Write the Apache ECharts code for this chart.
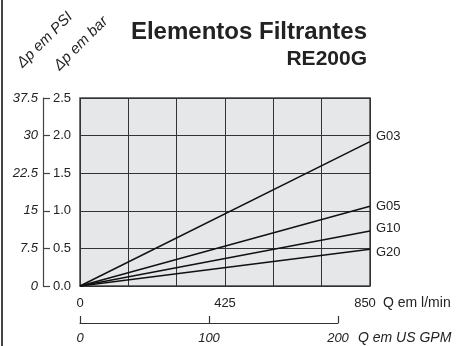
<!DOCTYPE html>
<html><head><meta charset="utf-8">
<script src="https://cdn.jsdelivr.net/npm/echarts@6/dist/echarts.min.js"></script>
<style>html,body{margin:0;padding:0;background:#fff}#c{width:459px;height:346px}</style>
</head><body><div id="c"></div>
<script>
// Data (flow in l/min, pressure drop in bar)
const seriesNames = ['G03', 'G05', 'G10', 'G20'];
const flowPoints = [0, 850];
const G03 = [0, 1.92];
const G05 = [0, 1.06];
const G10 = [0, 0.73];
const G20 = [0, 0.49];
const xTickLabels = [0, 425, 850];
const gpmTicks = [0, 100, 200];
const barTicks = [0, 0.5, 1.0, 1.5, 2.0, 2.5];
const psiTicks = [0, 7.5, 15, 22.5, 30, 37.5];
const labelOffsets = [[0, -5], [0, 0], [0, -3], [0, 3]];

const F = 'Liberation Sans, Arial, Helvetica, sans-serif';
const TXT = '#222';
const chart = echarts.init(document.getElementById('c'), null, {renderer: 'canvas'});
const vals = [G03, G05, G10, G20];

const series = seriesNames.map((n, i) => ({
  name: n, type: 'line', xAxisIndex: 0, yAxisIndex: 0,
  data: flowPoints.map((x, j) => [x, vals[i][j]]),
  symbol: 'none', silent: true,
  lineStyle: {color: '#111', width: 1.5},
  endLabel: {show: true, formatter: n, color: TXT, fontFamily: F, fontSize: 13, distance: 6, offset: labelOffsets[i]}
}));

const G = {left: 80, top: 98, width: 290, height: 188, outerBoundsMode: 'none', containLabel: false};

chart.setOption({
  animation: false,
  grid: [
    Object.assign({}, G, {show: true, backgroundColor: '#e6e7e9', borderColor: '#444', borderWidth: 1.5}),
    Object.assign({}, G, {show: false}),
    {left: 80, top: 250, width: 258, height: 73, show: false, outerBoundsMode: 'none', containLabel: false}
  ],
  xAxis: [
    {type: 'value', gridIndex: 0, min: 0, max: 850, interval: 850 / 6,
     axisLine: {show: false}, axisTick: {show: false},
     splitLine: {show: true, lineStyle: {color: '#333', width: 1}},
     axisLabel: {color: TXT, fontFamily: F, fontSize: 13, margin: 11,
       formatter: v => { const r = Math.round(v); if (!(xTickLabels.includes(r) && Math.abs(v - r) < 0.01)) return ''; return r === 850 ? '{r|' + r + '}' : String(r); },
       rich: {r: {fontFamily: F, fontSize: 13, color: TXT, padding: [0, 10, 0, 0]}}}},
    {type: 'value', gridIndex: 1, min: 0, max: 1, show: false},
    {type: 'value', gridIndex: 2, min: 0, max: 200, interval: 100, position: 'bottom',
     axisLine: {show: true, lineStyle: {color: '#333', width: 1.2}},
     axisTick: {show: true, inside: true, length: 7, lineStyle: {color: '#333', width: 1.2}},
     splitLine: {show: false},
     axisLabel: {color: TXT, fontFamily: F, fontSize: 13, fontStyle: 'italic', margin: 9,
       formatter: v => gpmTicks.includes(v) ? String(v) : ''}}
  ],
  yAxis: [
    {type: 'value', gridIndex: 0, min: 0, max: 2.5, interval: 0.5, position: 'right',
     axisLine: {show: false}, axisTick: {show: false}, axisLabel: {show: false},
     splitLine: {show: true, lineStyle: {color: '#333', width: 1}}},
    {type: 'value', gridIndex: 0, min: 0, max: 2.5, interval: 0.5, position: 'left', offset: 37,
     axisLine: {show: true, lineStyle: {color: '#444', width: 1.2}},
     axisTick: {show: true, inside: true, length: 7, lineStyle: {color: '#444', width: 1.2}},
     splitLine: {show: false},
     axisLabel: {inside: true, color: TXT, fontFamily: F, fontSize: 13, margin: 10,
       formatter: v => barTicks.find(t => Math.abs(t - v) < 1e-6).toFixed(1)}},
    {type: 'value', gridIndex: 1, min: 0, max: 37.5, interval: 7.5, position: 'left', offset: 37,
     axisLine: {show: false}, axisTick: {show: false}, splitLine: {show: false},
     axisLabel: {margin: 5, color: TXT, fontFamily: F, fontSize: 13, fontStyle: 'italic',
       formatter: v => String(psiTicks.find(t => Math.abs(t - v) < 1e-6))}},
    {type: 'value', gridIndex: 2, min: 0, max: 1, show: false}
  ],
  series: series,
  graphic: [
    {type: 'line', shape: {x1: 2, y1: 0, x2: 2, y2: 346}, style: {stroke: '#444', lineWidth: 2}},
    {type: 'text', x: 367, y: 32.5,
     style: {text: 'Elementos Filtrantes', font: 'bold 24px ' + F, fill: TXT, align: 'right', verticalAlign: 'middle'}},
    {type: 'text', x: 367, y: 59,
     style: {text: 'RE200G', font: 'bold 21px ' + F, fill: TXT, align: 'right', verticalAlign: 'middle'}},
    {type: 'text', x: 45, y: 40, rotation: Math.PI / 4,
     style: {text: 'Δp em PSI', font: 'italic 15px ' + F, fill: TXT, align: 'center', verticalAlign: 'middle'}},
    {type: 'text', x: 81, y: 43.5, rotation: Math.PI / 4,
     style: {text: 'Δp em bar', font: 'italic 15px ' + F, fill: TXT, align: 'center', verticalAlign: 'middle'}},
    {type: 'text', x: 383, y: 303,
     style: {text: 'Q em l/min', font: '14px ' + F, fill: TXT, align: 'left', verticalAlign: 'middle'}},
    {type: 'text', x: 358, y: 338,
     style: {text: 'Q em US GPM', font: 'italic 14px ' + F, fill: TXT, align: 'left', verticalAlign: 'middle'}}
  ]
});
</script></body></html>
